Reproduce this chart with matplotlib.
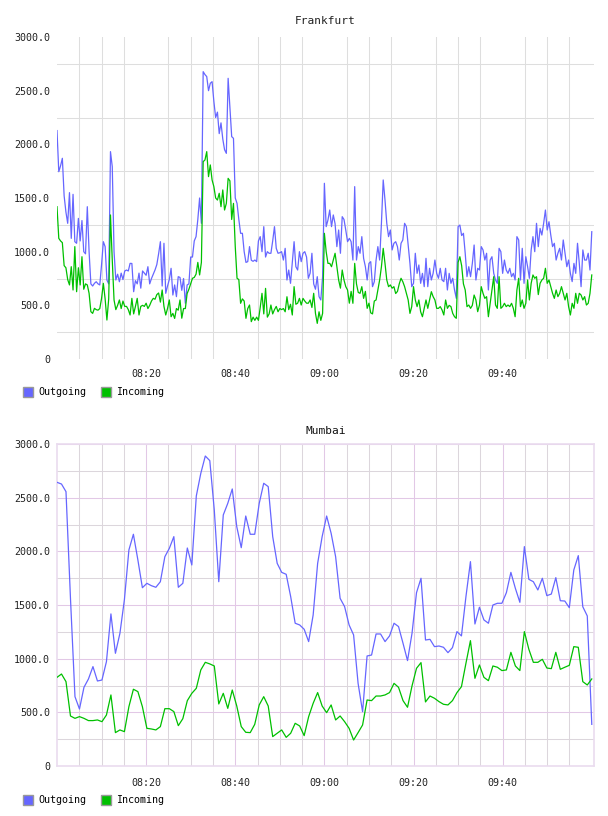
import matplotlib
matplotlib.use("Agg")
import matplotlib.pyplot as plt
import matplotlib.dates as mdates
from matplotlib.patches import Patch
from matplotlib.ticker import FixedLocator, FuncFormatter
import pandas as pd

# Frankfurt: one sample every 24 s, 08:00 - 10:00
frankfurt_out = [
    2128, 1745, 1800, 1870, 1520, 1370, 1264, 1550, 1124, 1534,
    1093, 1078, 1310, 1100, 1290, 1000, 980, 1419, 1000, 700,
    680, 705, 720, 700, 690, 880, 1093, 1047, 736, 700,
    1932, 1792, 1000, 736, 790, 720, 800, 740, 820, 829,
    820, 891, 890, 627, 730, 700, 800, 660, 820, 800,
    780, 860, 700, 750, 790, 830, 880, 980, 1093, 680,
    1078, 612, 680, 740, 845, 596, 690, 581, 767, 760,
    640, 750, 519, 690, 700,
    950, 950, 1100, 1140, 1300, 1500, 1264, 2677, 2650, 2631,
    2500, 2569, 2584, 2400, 2250, 2300, 2100, 2200, 2050, 1950,
    1916, 2615, 2350, 2072, 2056, 1500, 1450, 1300, 1171, 1171,
    1000, 900, 907, 1047, 920, 910, 922, 907, 1100, 1140,
    1000, 1233, 950, 1000, 985, 985, 1100, 1233, 1031, 985,
    990, 1000, 922, 1031, 736, 829, 705, 900, 1093, 860,
    829, 1000, 907, 985, 1000, 950, 752, 800, 985, 700,
    650, 767, 581, 550, 767,
    1637, 1233, 1295, 1388, 1233, 1342, 1260, 1047, 1202, 985,
    1326, 1300, 1200, 1093, 1124, 1093, 922, 1606, 922, 1047,
    985, 1140, 938, 860, 736, 891, 907, 674, 720, 922,
    1047, 922, 1264, 1668, 1481, 1264, 1140, 1202, 1016, 1078,
    1093, 1047, 922, 1078, 1109, 1264, 1233, 1062, 891, 674,
    705, 985, 798, 876, 705, 798, 674, 938, 674, 845,
    736, 798, 922, 798, 752, 845, 736, 721, 845, 643,
    798, 705, 752, 643, 565,
    1233, 1248, 1150, 1171, 985, 767, 860, 767, 891, 1062,
    736, 845, 829, 1047, 1016, 922, 985, 643, 922, 953,
    798, 736, 705, 1031, 1000, 798, 922, 829, 798, 845,
    767, 798, 736, 1140, 1109, 736, 1031, 705, 953, 860,
    752, 1016, 1140, 1000, 1264, 1047, 1217, 1155, 1264, 1388,
    1202, 1279, 1155, 1047, 1078, 922, 985, 1031, 922, 1109,
    985, 860, 922, 798, 721, 891, 798, 1078, 891, 674,
    1016, 922, 922, 985, 829, 1186,
]
frankfurt_in = [
    1419, 1124, 1100, 1084, 870, 850, 740, 690, 860, 643,
    1047, 627, 850, 690, 953, 650, 700, 690, 612, 441,
    425, 472, 460, 455, 470, 565, 705, 560, 363, 560,
    1342, 922, 550, 460, 500, 550, 470, 540, 490, 490,
    460, 410, 565, 420, 490, 565, 410, 490, 500, 490,
    520, 470, 500, 540, 565, 557, 600, 615, 530, 643,
    490, 410, 470, 550, 394, 425, 378, 470, 455, 550,
    380, 470, 470, 610, 650,
    700, 752, 760, 790, 900, 783, 900, 1839, 1854, 1932,
    1699, 1808, 1668, 1606, 1500, 1481, 1544, 1419, 1575, 1388,
    1450, 1683, 1660, 1300, 1450, 1047, 752, 740, 519, 560,
    540, 379, 470, 503, 348, 390, 360, 390, 360, 480,
    612, 420, 658, 390, 420, 503, 420, 460, 490, 440,
    470, 460, 470, 440, 580, 460, 510, 410, 674, 510,
    520, 565, 503, 565, 540, 520, 520, 550, 480, 612,
    425, 332, 440, 360, 425,
    1171, 1000, 891, 891, 860, 922, 985, 860, 736, 660,
    829, 736, 674, 643, 520, 630, 519, 891, 700, 620,
    612, 674, 565, 630, 472, 520, 430, 420, 540, 550,
    643, 736, 860, 1031, 891, 736, 674, 690, 660, 674,
    610, 630, 700, 752, 720, 674, 612, 550, 425, 488,
    674, 550, 488, 550, 440, 394, 472, 550, 472, 550,
    627, 581, 550, 472, 472, 488, 457, 410, 550, 472,
    500, 488, 425, 394, 379,
    900, 953, 870, 700, 643, 488, 503, 472, 500, 596,
    550, 441, 503, 674, 612, 565, 581, 394, 519, 643,
    767, 503, 472, 767, 472, 488, 519, 488, 503, 488,
    519, 472, 394, 643, 752, 488, 550, 472, 519, 736,
    550, 705, 783, 752, 767, 600, 705, 736, 752, 845,
    705, 736, 674, 612, 565, 643, 581, 612, 674, 612,
    550, 612, 488, 410, 519, 472, 612, 519, 612, 596,
    550, 581, 503, 519, 612, 783,
]

# Mumbai: about one sample a minute
mumbai_out = [
    2643, 2627, 2556, 1560, 646, 531, 733, 811, 926, 792,
    801, 972, 1417, 1050, 1236, 1550, 2013, 2159, 1919, 1661,
    1702, 1680, 1665, 1717, 1950, 2028, 2137, 1665, 1702, 2031,
    1873, 2516, 2727, 2888, 2845, 2385, 1717, 2339, 2447, 2581,
    2230, 2034, 2329, 2159, 2159, 2447, 2634, 2603, 2137, 1888,
    1804, 1786, 1578, 1330, 1314, 1274, 1159, 1407, 1888, 2137,
    2329, 2168, 1950, 1562, 1485, 1314, 1221, 770, 506, 1025,
    1034, 1230, 1230, 1159, 1212, 1330, 1299, 1143, 982, 1236,
    1615, 1749, 1174, 1180, 1112, 1118, 1106, 1056, 1103, 1252,
    1212, 1578, 1904, 1323, 1479, 1361, 1330, 1500, 1516, 1516,
    1615, 1804, 1655, 1525, 2044, 1739, 1717, 1640, 1749, 1587,
    1602, 1755, 1540, 1537, 1475, 1826, 1960, 1484, 1398, 388,
]
mumbai_in = [
    826, 857, 786, 466, 444, 460, 444, 423, 423, 429,
    413, 475, 662, 311, 336, 320, 553, 715, 693, 553,
    351, 345, 336, 367, 534, 534, 507, 376, 441, 609,
    677, 724, 895, 966, 951, 932, 578, 677, 537, 708,
    559, 367, 314, 311, 388, 569, 646, 559, 274, 305,
    336, 267, 305, 398, 373, 283, 460, 584, 684, 559,
    497, 569, 429, 466, 413, 351, 242, 311, 382, 615,
    609, 652, 652, 662, 684, 770, 733, 609, 547, 746,
    910, 963, 597, 652, 631, 600, 575, 569, 609, 684,
    739, 957, 1168, 817, 941, 826, 795, 932, 920, 889,
    895, 1059, 932, 889, 1252, 1087, 966, 966, 994, 913,
    907, 1059, 901, 920, 938, 1112, 1106, 786, 755, 811,
]

series_names = ["Outgoing", "Incoming"]
titles = ["Frankfurt", "Mumbai"]
day = "2024-01-01"

out_color = "#6666ff"
in_color = "#00c000"
mono = "DejaVu Sans Mono"

t_start = pd.Timestamp(day + " 08:00")
t_end = pd.Timestamp(day + " 10:00")
frankfurt_t = pd.date_range(t_start, t_end, periods=len(frankfurt_out))
mumbai_t = pd.date_range(t_start, t_end, periods=len(mumbai_out))

fig = plt.figure(figsize=(6.08, 8.16), dpi=100)
W, H = 608, 816
ax1 = fig.add_axes([57 / W, 1 - 359 / H, 537 / W, 322 / H])
ax2 = fig.add_axes([57 / W, 1 - 766 / H, 537 / W, 322 / H])

major_times = [t_start + pd.Timedelta(minutes=m) for m in (20, 40, 60, 80, 100)]
minor_times = [t_start + pd.Timedelta(minutes=m) for m in range(5, 120, 5)]
minor_only = [t for t in minor_times if t not in major_times]


def yfmt(v, pos):
    return "0" if v == 0 else "%.1f" % v


for ax, t, out_v, in_v in [
    (ax1, frankfurt_t, frankfurt_out, frankfurt_in),
    (ax2, mumbai_t, mumbai_out, mumbai_in),
]:
    ax.plot(t, out_v, color=out_color, lw=0.9, zorder=3)
    ax.plot(t, in_v, color=in_color, lw=0.9, zorder=3)
    ax.set_xlim(t_start, t_end + pd.Timedelta(seconds=30))
    ax.set_ylim(0, 3000)
    ax.set_axisbelow(True)

    ax.yaxis.set_major_locator(FixedLocator(range(0, 3001, 500)))
    ax.yaxis.set_minor_locator(FixedLocator(range(250, 3000, 500)))
    ax.yaxis.set_major_formatter(FuncFormatter(yfmt))
    ax.xaxis.set_major_formatter(mdates.DateFormatter("%H:%M"))

    ax.tick_params(which="both", length=0, labelsize=7.2, colors="#222222")
    for lab in ax.get_xticklabels() + ax.get_yticklabels():
        lab.set_fontfamily(mono)

# Frankfurt: plain grey grid, offset horizontals, no frame
ax1.xaxis.set_major_locator(FixedLocator(mdates.date2num(major_times)))
ax1.xaxis.set_minor_locator(FixedLocator(mdates.date2num(minor_times)))
ax1.grid(False, which="major")
ax1.grid(True, which="minor", color="#dedede", lw=0.75)
for s in ax1.spines.values():
    s.set_visible(False)
ax1.tick_params(axis="x", pad=7.5)
ax1.tick_params(axis="y", pad=5)
ax1.set_title(titles[0], fontsize=8, family=mono, color="#222222", pad=9)

# Mumbai: lavender major grid, grey minor grid, framed
ax2.xaxis.set_major_locator(FixedLocator(mdates.date2num(major_times)))
ax2.xaxis.set_minor_locator(FixedLocator(mdates.date2num(minor_only)))
ax2.grid(True, which="major", color="#e2c8e6", lw=0.75)
ax2.grid(True, which="minor", color="#dcd6dc", lw=0.75)
for s in ax2.spines.values():
    s.set_color("#eadcef")
    s.set_linewidth(1.2)
ax2.tick_params(axis="x", pad=8.5)
ax2.tick_params(axis="y", pad=5)
ax2.set_title(titles[1], fontsize=8, family=mono, color="#111111", pad=7.5)

handles = [
    Patch(facecolor=out_color, edgecolor="#999999", lw=1),
    Patch(facecolor=in_color, edgecolor="#999999", lw=1),
]
for ycen in (392, 800):
    fig.legend(handles, series_names, loc="center left",
               bbox_to_anchor=(23 / W, 1 - ycen / H), frameon=False, ncol=2,
               handlelength=1.0, handleheight=1.1, handletextpad=0.5,
               columnspacing=1.5, borderpad=0, borderaxespad=0,
               prop={"family": mono, "size": 7.2})

fig.savefig("out.png", dpi=100)
